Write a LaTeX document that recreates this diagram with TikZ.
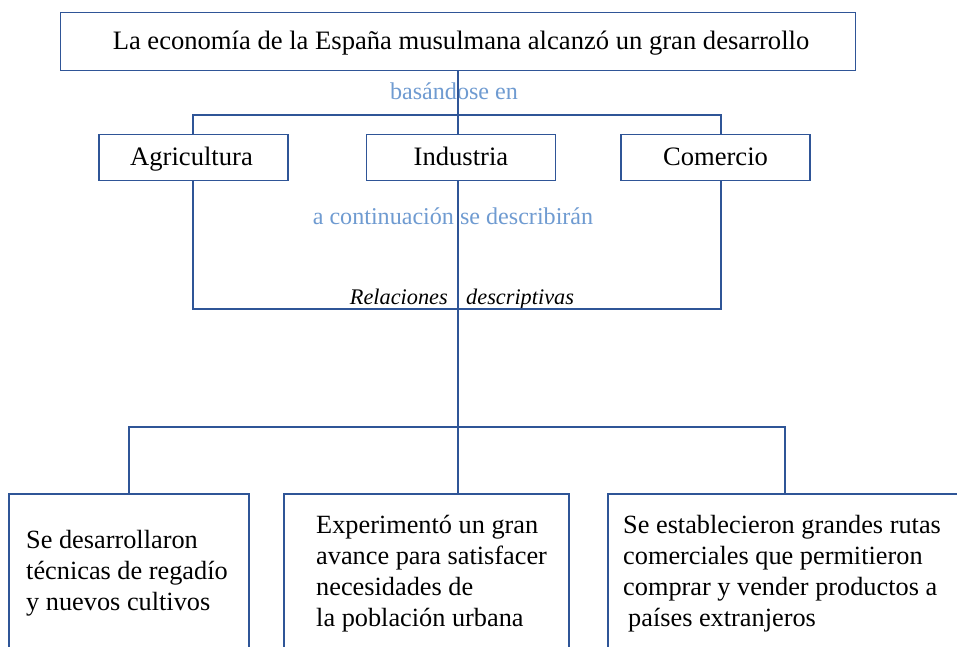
\documentclass[tikz,border=0pt]{standalone}
\usepackage{fontspec}
\setmainfont{Liberation Serif}
\definecolor{lineblue}{HTML}{2F5597}
\definecolor{txtblue}{HTML}{6F9BD1}
\tikzset{
  conn/.style={draw=lineblue, line width=1.3pt},
  box/.style={draw=lineblue, line width=1.3pt, rectangle, inner sep=0pt},
  toptext/.style={font=\fontsize{26.6}{30}\selectfont, anchor=base, inner sep=0pt},
  lbltext/.style={font=\fontsize{26.6}{30}\selectfont, anchor=base, inner sep=0pt},
  bluetext/.style={font=\fontsize{24.1}{28}\selectfont, text=txtblue, anchor=base, inner sep=0pt},
  reltext/.style={font=\fontsize{22.3}{26}\selectfont\itshape, anchor=base, inner sep=0pt},
  body/.style={font=\fontsize{26.3}{31}\selectfont, align=left, anchor=base west, inner sep=0pt}
}
\begin{document}
\begin{tikzpicture}[x=1pt,y=-1pt]
\clip (0,0) rectangle (957,646);
\useasboundingbox (0,0) rectangle (957,646);
\fill[white] (0,0) rectangle (957,646);
% boxes
\node[box, minimum width=795, minimum height=58] (top) at (458,41.5) {};
\node[box, minimum width=189, minimum height=46] (agr) at (193.5,157.5) {};
\node[box, minimum width=189, minimum height=46] (ind) at (461,157.5) {};
\node[box, minimum width=189, minimum height=46] (com) at (715.5,157.5) {};
\node[box, minimum width=240, minimum height=226] (b1) at (129,607) {};
\node[box, minimum width=285, minimum height=226] (b2) at (426.5,607) {};
\node[box, minimum width=392, minimum height=226] (b3) at (804,607) {};
% texts
\node[toptext] (ttop) at (461,49) {La economía de la España musulmana alcanzó un gran desarrollo};
\node[lbltext] (tagr) at (191.5,165) {Agricultura};
\node[lbltext] (tind) at (461,165) {Industria};
\node[lbltext] (tcom) at (715.5,165) {Comercio};
\node[bluetext] (tbas) at (454,99) {basándose en};
\node[bluetext] (tcont) at (453,224) {a continuación se describirán};
\node[reltext, anchor=base east] (trel1) at (448,304) {Relaciones};
\node[reltext, anchor=base west] (trel2) at (466,304) {descriptivas};
\node[body] (tb1) at (26,610.5) {Se desarrollaron\\técnicas de regadío\\y nuevos cultivos};
\node[body] (tb2) at (316,626) {Experimentó un gran\\avance para satisfacer\\necesidades de\\la población urbana};
\node[body] (tb3) at (623,626) {Se establecieron grandes rutas\\comerciales que permitieron\\comprar y vender productos a\\\hspace{5pt}países extranjeros};
% connectors
\coordinate (hA) at (193,115);
\coordinate (hC) at (721,115);
\coordinate (lA) at (193,309);
\coordinate (lC) at (721,309);
\coordinate (hM) at (458,427);
\coordinate (dL) at (129,427);
\coordinate (dR) at (785,427);
\draw[conn] (top.south) -- (top.south |- ind.north);
\draw[conn] (hA |- agr.north) -- (hA) -- (hC) -- (hC |- com.north);
\draw[conn] (hA |- agr.south) -- (lA) -- (lC) -- (hC |- com.south);
\draw[conn] (top.south |- ind.south) -- (hM);
\draw[conn] (dL |- b1.north) -- (dL) -- (dR) -- (dR |- b3.north);
\draw[conn] (hM) -- (hM |- b2.north);
\end{tikzpicture}
\end{document}
